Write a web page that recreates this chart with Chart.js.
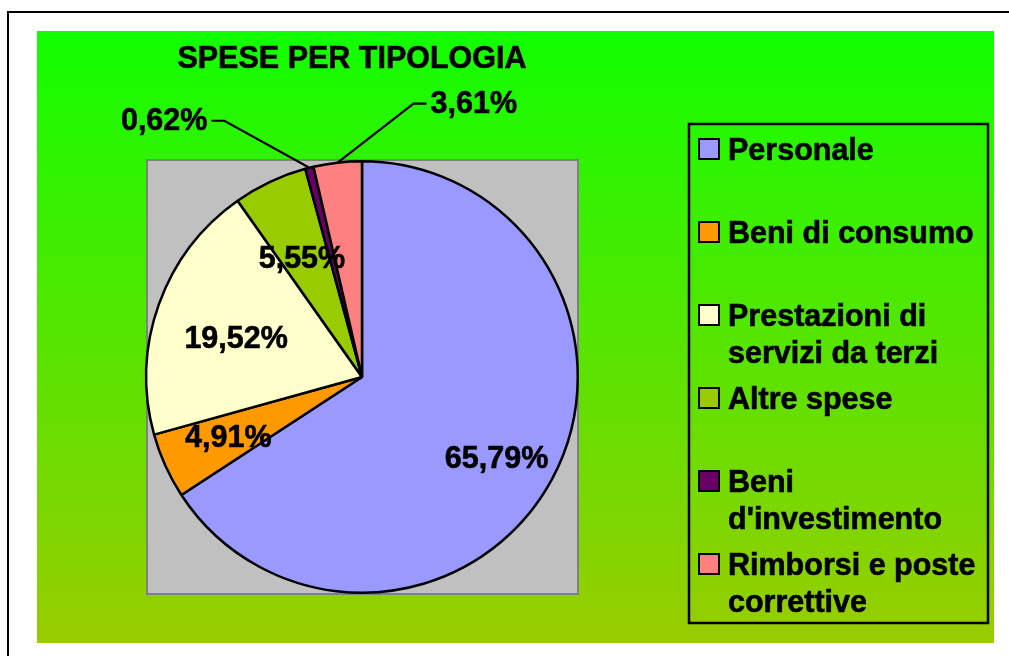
<!DOCTYPE html>
<html>
<head>
<meta charset="utf-8">
<script src="https://cdn.jsdelivr.net/npm/chart.js@4/dist/chart.umd.min.js"></script>
<style>
html,body{margin:0;padding:0;background:#fff;}
#wrap{width:1009px;height:656px;position:relative;}
</style>
</head>
<body>
<div id="wrap"><canvas id="c" width="1009" height="656"></canvas></div>
<script>
const title = 'SPESE PER TIPOLOGIA';
const categories = ['Personale', 'Beni di consumo', 'Prestazioni di servizi da terzi', 'Altre spese', "Beni d'investimento", 'Rimborsi e poste correttive'];
const values = [65.79, 4.91, 19.52, 5.55, 0.62, 3.61];
const valueLabels = ['65,79%', '4,91%', '19,52%', '5,55%', '0,62%', '3,61%'];
const colors = ['#9999ff', '#ff9900', '#ffffcc', '#99cc00', '#660066', '#ff8080'];

const FONT = 'bold 30.5px "Liberation Sans", Arial, sans-serif';

// label placement (layout only): radial factor and angle tweak in degrees
const inside = {0: {f: 0.73, da: 2.9}, 1: {f: 0.68, da: 0}, 2: {f: 0.61, da: -2.7}, 3: {f: 0.615, da: -1.7}};
const outside = {4: {dx: -85, dy: -47, side: -1}, 5: {dx: 76, dy: -59, side: 1}};

function boldText(ctx, t, x, y) {
  ctx.fillText(t, x, y);
  ctx.strokeText(t, x, y);
}

const backdrop = {
  id: 'backdrop',
  beforeDraw(chart) {
    const ctx = chart.ctx;
    const ca = chart.chartArea;
    ctx.save();
    ctx.fillStyle = '#ffffff';
    ctx.fillRect(0, 0, chart.width, chart.height);
    ctx.strokeStyle = '#000';
    ctx.lineWidth = 2;
    ctx.strokeRect(8, 12, chart.width + 20, chart.height + 20);
    const g = ctx.createLinearGradient(0, 31, 0, 643);
    g.addColorStop(0, '#11ff00');
    g.addColorStop(1, '#99cc00');
    ctx.fillStyle = g;
    ctx.fillRect(37, 31, 957, 612);
    // plot area
    ctx.fillStyle = '#c0c0c0';
    ctx.fillRect(ca.left + 2, ca.top, ca.width - 3, ca.height);
    ctx.strokeStyle = '#808080';
    ctx.lineWidth = 2;
    ctx.strokeRect(ca.left + 2, ca.top, ca.width - 3, ca.height);
    // title
    ctx.fillStyle = '#000';
    ctx.strokeStyle = '#000';
    ctx.lineWidth = 0.6;
    ctx.font = FONT;
    ctx.textAlign = 'center';
    ctx.textBaseline = 'alphabetic';
    boldText(ctx, title, 352, 68);
    ctx.restore();
  }
};

function wrap(ctx, text, maxW) {
  const words = text.split(' ');
  const lines = [];
  let cur = '';
  for (const w of words) {
    const t = cur ? cur + ' ' + w : w;
    if (ctx.measureText(t).width > maxW && cur) { lines.push(cur); cur = w; }
    else cur = t;
  }
  if (cur) lines.push(cur);
  return lines;
}

const overlay = {
  id: 'overlay',
  afterDraw(chart) {
    const ctx = chart.ctx;
    const meta = chart.getDatasetMeta(0);
    ctx.save();
    ctx.font = FONT;
    ctx.fillStyle = '#000';
    ctx.textBaseline = 'middle';
    meta.data.forEach((arc, i) => {
      const p = arc.getProps(['x', 'y', 'startAngle', 'endAngle', 'outerRadius'], true);
      const mid = (p.startAngle + p.endAngle) / 2;
      if (inside[i] !== undefined) {
        const o = inside[i];
        const a = mid + o.da * Math.PI / 180;
        const r = p.outerRadius * o.f;
        ctx.textAlign = 'center';
        ctx.strokeStyle = '#000';
        ctx.lineWidth = 0.6;
        boldText(ctx, valueLabels[i], p.x + Math.cos(a) * r, p.y + Math.sin(a) * r + 1);
      } else if (outside[i]) {
        const o = outside[i];
        const ex = p.x + Math.cos(mid) * p.outerRadius;
        const ey = p.y + Math.sin(mid) * p.outerRadius;
        const kx = ex + o.dx, ky = ey + o.dy;
        const hx = kx + o.side * 13;
        ctx.strokeStyle = '#000';
        ctx.lineWidth = 2.2;
        ctx.beginPath();
        ctx.moveTo(ex, ey);
        ctx.lineTo(kx, ky);
        ctx.lineTo(hx, ky);
        ctx.stroke();
        ctx.textAlign = o.side < 0 ? 'right' : 'left';
        ctx.lineWidth = 0.6;
        boldText(ctx, valueLabels[i], hx + o.side * 4, ky + 1);
      }
    });
    // legend
    ctx.strokeStyle = '#000';
    ctx.lineWidth = 2.5;
    ctx.strokeRect(689, 124, 299, 499);
    ctx.textAlign = 'left';
    ctx.textBaseline = 'alphabetic';
    const labels = chart.data.labels;
    const bg = chart.data.datasets[0].backgroundColor;
    labels.forEach((lab, i) => {
      const base = 160 + 83 * i;
      ctx.fillStyle = bg[i];
      ctx.fillRect(699, base - 21, 20, 20);
      ctx.lineWidth = 2;
      ctx.strokeRect(699, base - 21, 20, 20);
      ctx.fillStyle = '#000';
      ctx.lineWidth = 0.6;
      const lines = wrap(ctx, lab, 258);
      lines.forEach((ln, j) => boldText(ctx, ln, 728, base + 37 * j));
    });
    ctx.restore();
  }
};

new Chart(document.getElementById('c'), {
  type: 'pie',
  data: {
    labels: categories,
    datasets: [{
      data: values,
      backgroundColor: colors,
      borderColor: '#000',
      borderWidth: 2.5,
      hoverOffset: 0
    }]
  },
  options: {
    responsive: false,
    animation: false,
    events: [],
    layout: { padding: { left: 145, top: 160, right: 430, bottom: 62 } },
    plugins: {
      legend: { display: false },
      title: { display: false },
      tooltip: { enabled: false }
    }
  },
  plugins: [backdrop, overlay]
});
</script>
</body>
</html>
